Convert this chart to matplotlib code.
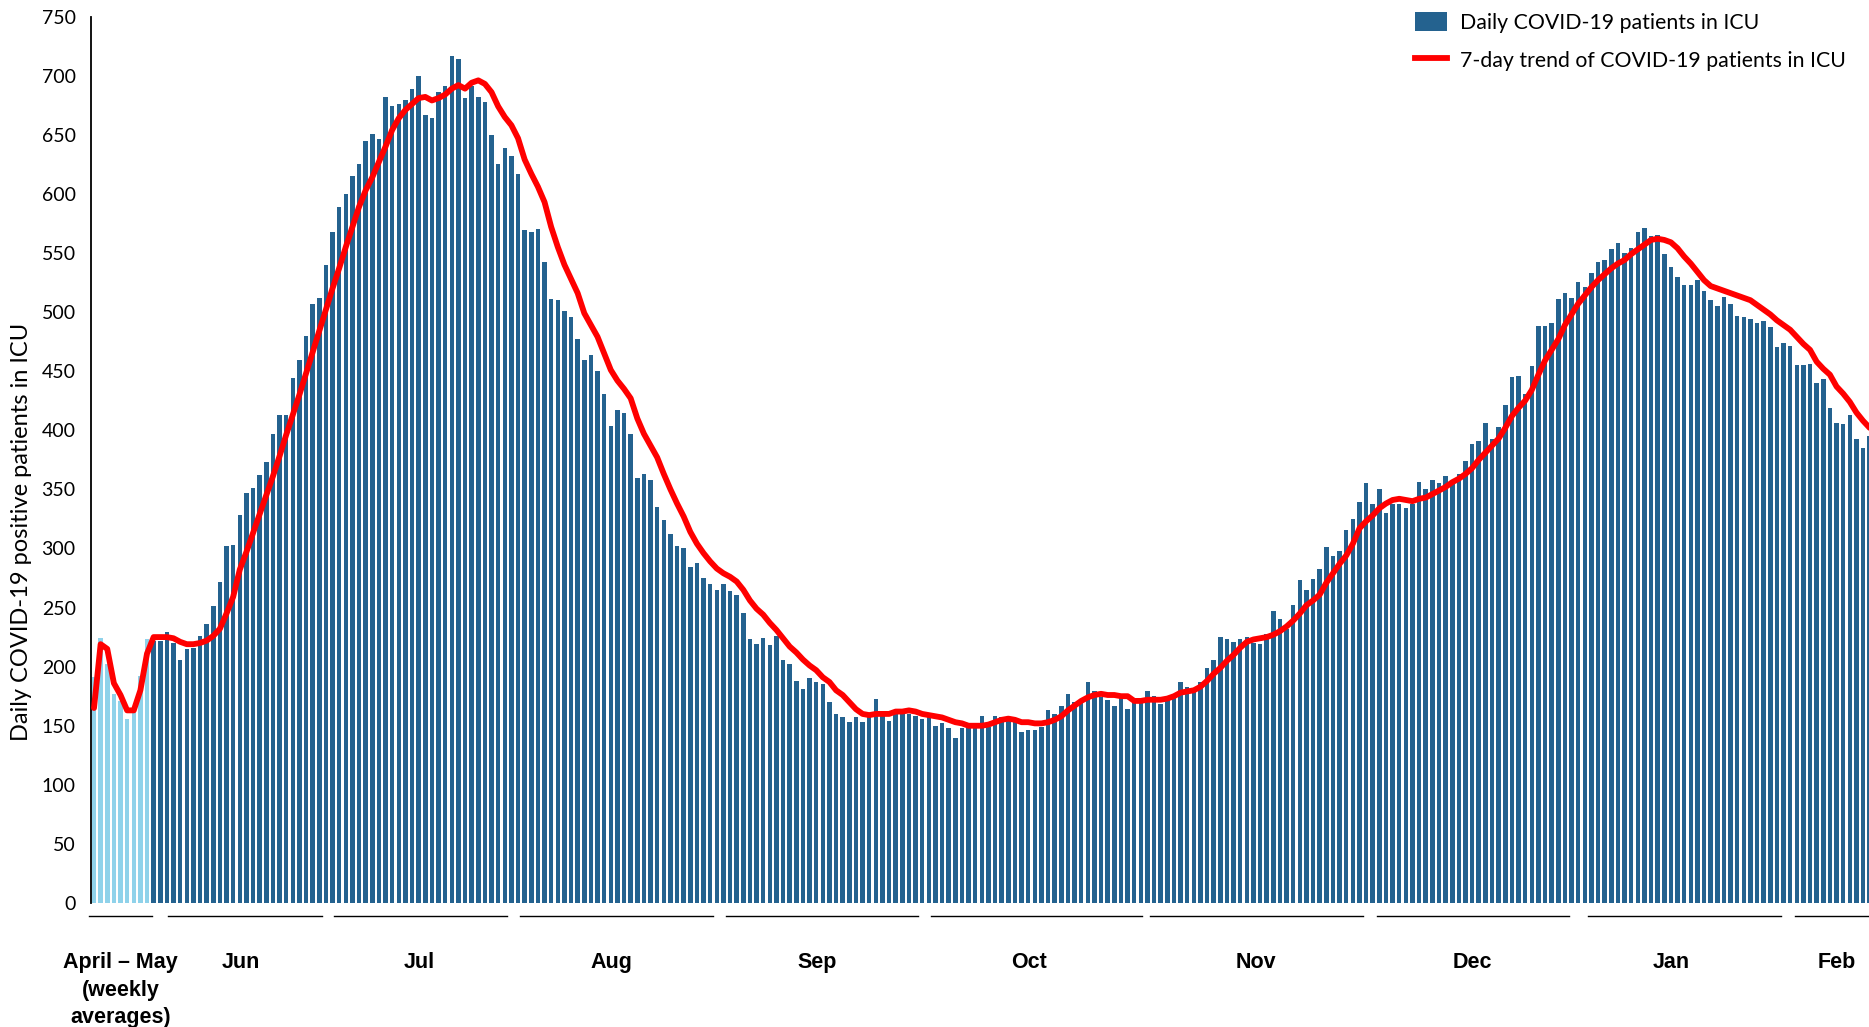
import matplotlib
matplotlib.use("Agg")
import matplotlib.pyplot as plt
from matplotlib.patches import Patch
from matplotlib.lines import Line2D

# April - May shown as weekly averages
weekly_avg = [191, 224, 202, 177, 171, 156, 166, 192, 223]

# daily ICU census, starting right after the weekly averages
daily_icu = [
    222, 222, 229, 220, 206, 215, 216, 226, 236, 251,
    272, 302, 303, 328, 347, 351, 362, 373, 397, 413,
    413, 444, 459, 480, 507, 512, 540, 568, 589, 600,
    615, 625, 645, 651, 646, 682, 674, 676, 679, 689,
    700, 667, 664, 686, 691, 717, 714, 681, 691, 682,
    678, 650, 625, 639, 632, 617, 569, 568, 570, 542,
    511, 510, 501, 496, 477, 459, 464, 450, 431, 404,
    417, 415, 397, 360, 363, 358, 335, 324, 312, 302,
    300, 284, 288, 275, 270, 265, 270, 264, 261, 245,
    223, 219, 224, 218, 226, 206, 202, 188, 181, 190,
    187, 185, 170, 160, 157, 153, 157, 153, 159, 173,
    159, 154, 160, 160, 160, 158, 156, 158, 150, 152,
    148, 140, 148, 149, 148, 158, 149, 158, 157, 156,
    155, 145, 146, 146, 149, 163, 160, 167, 177, 170,
    171, 187, 179, 174, 172, 167, 174, 164, 170, 170,
    179, 175, 168, 172, 177, 187, 183, 182, 187, 199,
    206, 225, 223, 221, 223, 225, 220, 219, 228, 247,
    240, 232, 252, 273, 265, 274, 283, 301, 294, 298,
    316, 325, 339, 355, 338, 350, 330, 338, 338, 334,
    338, 356, 350, 358, 355, 361, 357, 363, 374, 388,
    391, 406, 393, 403, 421, 445, 446, 431, 454, 488,
    488, 491, 511, 516, 512, 525, 521, 533, 542, 544,
    553, 558, 550, 554, 568, 571, 564, 565, 549, 538,
    530, 523, 523, 527, 518, 510, 505, 513, 507, 497,
    496, 494, 491, 492, 487, 470, 474, 471, 455, 455,
    456, 440, 443, 419, 406, 405, 413, 393, 385, 395,
]

# 7-day trend, one value per bar (weekly bars first)
trend = [
    165, 219, 215, 186, 176, 163, 163, 180, 211, 225,
    225, 225, 224, 221, 219, 219, 220, 222, 226, 232,
    245, 259, 282, 297, 313, 329, 345, 361, 378, 396,
    413, 430, 448, 466, 484, 502, 520, 537, 555, 572,
    589, 603, 614, 627, 640, 654, 664, 671, 676, 681,
    682, 679, 681, 684, 689, 692, 689, 694, 696, 693,
    686, 674, 665, 658, 647, 629, 617, 606, 593, 572,
    555, 540, 528, 516, 499, 489, 479, 465, 451, 442,
    435, 427, 410, 397, 387, 377, 363, 350, 338, 327,
    314, 304, 296, 289, 283, 279, 276, 272, 265, 256,
    249, 244, 237, 231, 224, 217, 212, 206, 201, 197,
    191, 187, 180, 176, 170, 164, 160, 159, 160, 160,
    160, 162, 162, 163, 162, 160, 159, 158, 157, 155,
    153, 152, 150, 150, 150, 151, 153, 155, 156, 155,
    153, 153, 152, 152, 153, 155, 158, 163, 167, 171,
    174, 176, 177, 176, 176, 175, 175, 171, 171, 172,
    172, 172, 173, 175, 178, 179, 180, 183, 188, 194,
    199, 205, 210, 216, 221, 223, 224, 225, 227, 230,
    234, 239, 245, 252, 256, 261, 271, 279, 287, 294,
    304, 317, 323, 328, 334, 338, 341, 342, 341, 340,
    342, 343, 346, 349, 352, 356, 359, 363, 368, 375,
    381, 387, 393, 402, 412, 419, 425, 434, 447, 459,
    468, 477, 489, 498, 507, 514, 521, 527, 532, 537,
    541, 544, 549, 553, 557, 561, 562, 561, 559, 554,
    547, 541, 534, 527, 522, 520, 518, 516, 514, 512,
    510, 506, 502, 498, 493, 489, 485, 479, 473, 468,
    458, 452, 447, 437, 431, 424, 415, 408, 402,
]

month_names = ["April \u2013 May\n(weekly\naverages)", "Jun", "Jul", "Aug",
               "Sep", "Oct", "Nov", "Dec", "Jan", "Feb"]
y_ticks = list(range(0, 751, 50))

# where the month labels and their underlines sit (in bar units)
month_centers = [4.0, 22.2, 49.1, 78.1, 109.2, 141.1, 175.3, 208.0, 238.1, 263.1]
month_spans = [(-0.7, 8.7), (11.2, 34.4), (36.2, 62.3), (64.3, 93.4),
               (95.4, 124.4), (126.3, 158.2), (159.4, 191.5), (193.6, 222.6),
               (225.5, 254.6), (256.8, 270.0)]

DARK = "#24628f"
LIGHT = "#8fd2ea"
RED = "#ff0000"


def draw_chart():
    plt.rcParams["font.family"] = ["Lato", "DejaVu Sans"]
    fig = plt.figure(figsize=(18.69, 10.27), dpi=100)
    ax = fig.add_axes([0.0487, 0.1207, 0.9513, 0.8632])

    n_weekly = len(weekly_avg)
    ax.bar(range(n_weekly), weekly_avg, width=0.68, color=LIGHT, zorder=2)
    ax.bar(range(n_weekly, n_weekly + len(daily_icu)), daily_icu,
           width=0.68, color=DARK, zorder=2)
    ax.plot(range(len(trend)), trend, color=RED, lw=4.2,
            solid_joinstyle="round", solid_capstyle="round", zorder=3)

    ax.set_xlim(-0.45, 267.9)
    ax.set_ylim(0, 750)
    ax.set_yticks(y_ticks)
    ax.tick_params(axis="y", length=0, pad=11, labelsize=14)
    ax.set_xticks([])
    for side in ["top", "right", "bottom"]:
        ax.spines[side].set_visible(False)
    ax.spines["left"].set_linewidth(1.3)

    # month underlines and labels under the bars
    trans = ax.get_xaxis_transform()
    for (x0, x1) in month_spans:
        ax.plot([x0, x1], [-0.0141, -0.0141], color="black", lw=1.0,
                transform=trans, clip_on=False)
    for name, xc in zip(month_names, month_centers):
        ax.text(xc, -0.055, name, transform=trans, ha="center", va="top",
                fontsize=15.5, fontweight="bold", family="Liberation Sans",
                linespacing=1.42)

    fig.text(21.5 / 1869, 1 - 532 / 1027,
             "Daily COVID-19 positive patients in ICU",
             rotation=90, ha="center", va="center", fontsize=17)

    handles = [Patch(facecolor=DARK, edgecolor="none"),
               Line2D([0], [0], color=RED, lw=4.2)]
    labels = ["Daily COVID-19 patients in ICU",
              "7-day trend of COVID-19 patients in ICU"]
    fig.legend(handles, labels, loc="upper left",
               bbox_to_anchor=(1415 / 1869, 1 - 12 / 1027),
               frameon=False, fontsize=15.3, borderpad=0, borderaxespad=0,
               handlelength=1.5, handleheight=1.0, handletextpad=0.6,
               labelspacing=0.8)

    fig.savefig("out.png", dpi=100)


def main():
    draw_chart()


if __name__ == "__main__":
    main()
